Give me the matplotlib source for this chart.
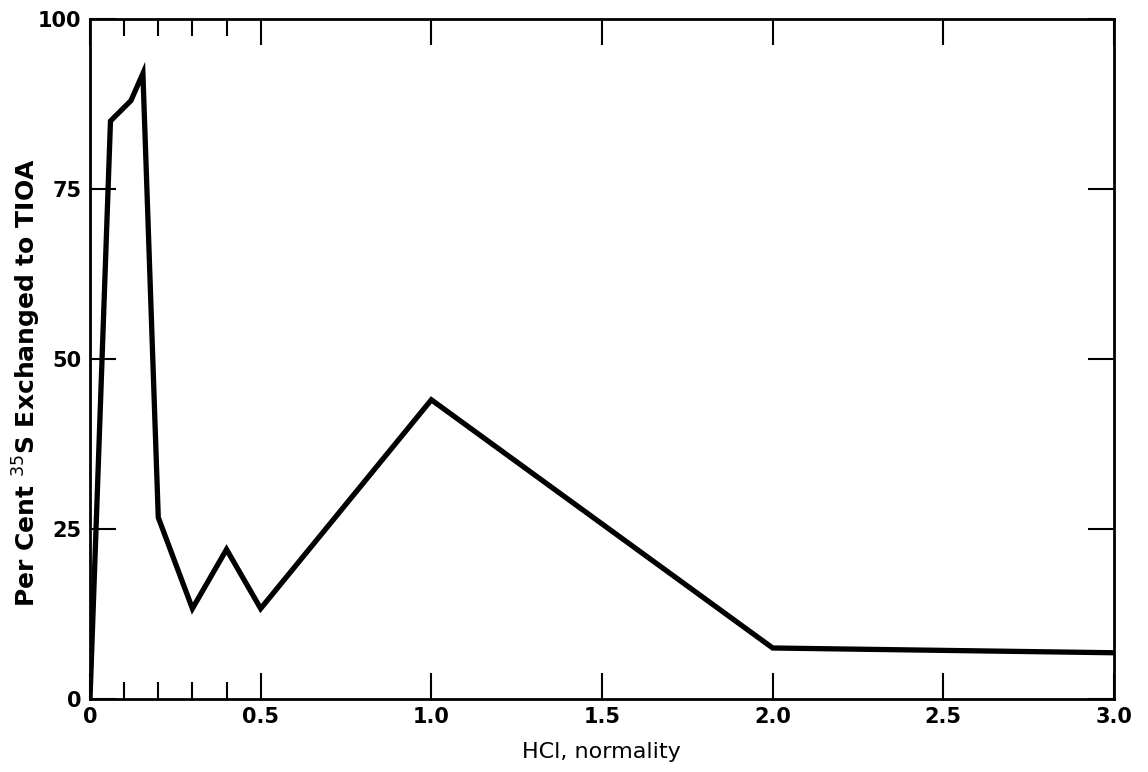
import matplotlib
matplotlib.use("Agg")
import matplotlib.pyplot as plt
from matplotlib.ticker import FixedLocator

# Data
hcl_normality = [0.0, 0.06, 0.12, 0.155, 0.20, 0.30, 0.40, 0.50, 1.00, 2.00, 3.00]
percent_exchanged = [0.0, 85.0, 88.0, 92.0, 26.7, 13.3, 22.0, 13.3, 44.0, 7.5, 6.8]

x_major = [0, 0.5, 1.0, 1.5, 2.0, 2.5, 3.0]
x_major_labels = ["0", "0.5", "1.0", "1.5", "2.0", "2.5", "3.0"]
x_minor = [0.1, 0.2, 0.3, 0.4]
y_major = [0, 25, 50, 75, 100]
y_major_labels = ["0", "25", "50", "75", "100"]

plt.rcParams['font.family'] = ['DejaVu Sans']

fig = plt.figure(figsize=(11.48, 7.72), dpi=100)
ax = fig.add_axes([90/1148, 1 - 699/772, (1114-90)/1148, (699-19)/772])

ax.plot(hcl_normality, percent_exchanged, color='black', lw=3.8,
        solid_joinstyle='miter', solid_capstyle='butt')

ax.set_xlim(0, 3.0)
ax.set_ylim(0, 100)

ax.xaxis.set_major_locator(FixedLocator(x_major))
ax.set_xticklabels(x_major_labels)
ax.xaxis.set_minor_locator(FixedLocator(x_minor))
ax.yaxis.set_major_locator(FixedLocator(y_major))
ax.set_yticklabels(y_major_labels)

ax.tick_params(axis='both', which='major', direction='in', length=19, width=1.5,
               top=True, right=True, labelsize=15, pad=6)
ax.tick_params(axis='x', which='minor', direction='in', length=12, width=1.5,
               top=True, bottom=True)
for lab in ax.get_xticklabels() + ax.get_yticklabels():
    lab.set_fontweight('bold')

for s in ax.spines.values():
    s.set_linewidth(2)

ax.set_xlabel("HCl, normality", fontsize=16)
ax.set_ylabel("Per Cent $^{35}$S Exchanged to TIOA", fontsize=18, fontweight='bold')
ax.xaxis.label.set_va('center')
ax.yaxis.label.set_va('center')
ax.xaxis.set_label_coords((601 - 90) / 1024, (699 - 752) / 680)
ax.yaxis.set_label_coords((27 - 90) / 1024, (699 - 383) / 680)

fig.savefig("out.png", dpi=100)
